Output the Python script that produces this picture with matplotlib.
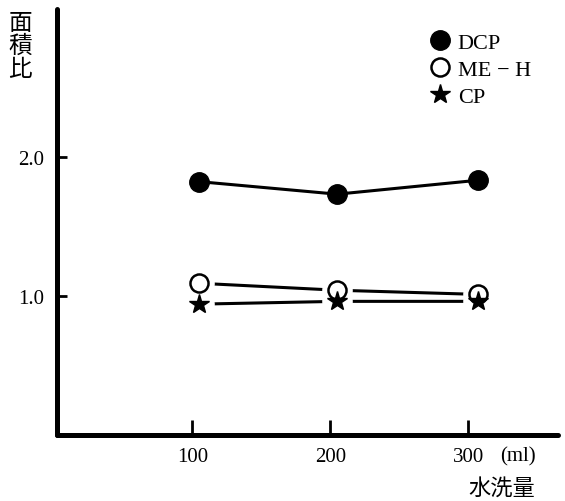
import matplotlib
matplotlib.use("Agg")
import matplotlib.pyplot as plt
from matplotlib.lines import Line2D

# Water wash volume (ml) and peak-area ratios
wash_volume = [105, 205, 307]
dcp = [1.82, 1.73, 1.83]
me_h = [1.09, 1.04, 1.01]
cp = [0.94, 0.96, 0.96]

x_ticks = [100, 200, 300]
x_ticklabels = ["100", "200", "300"]
y_ticks = [1.0, 2.0]
y_ticklabels = ["1.0", "2.0"]

serif = ["Liberation Serif", "DejaVu Serif"]
cjk = ["Noto Sans CJK JP", "DejaVu Sans"]

fig = plt.figure(figsize=(5.65, 5.02), dpi=100)
ax = fig.add_axes([0.1009, 0.1315, 0.8867, 0.8485])
ax.set_xlim(2, 365)
ax.set_ylim(0, 3.06)

for s in ["top", "right"]:
    ax.spines[s].set_visible(False)
for s in ["left", "bottom"]:
    ax.spines[s].set_linewidth(3.6)
    ax.spines[s].set_capstyle("round")

ax.set_xticks(x_ticks)
ax.set_xticklabels(x_ticklabels, fontfamily=serif, fontsize=15)
ax.set_yticks(y_ticks)
ax.set_yticklabels(y_ticklabels, fontfamily=serif, fontsize=15)
ax.tick_params(axis="x", direction="in", length=11, width=2, pad=9)
ax.tick_params(axis="y", direction="in", length=7, width=2, pad=9)

# DCP: solid line through filled circles
ax.plot(wash_volume, dcp, color="black", lw=2.2, zorder=2)
ax.plot(wash_volume, dcp, "o", color="black", ms=14, zorder=5)

# ME-H and CP: lines stop short of the markers
ax.plot(wash_volume, me_h, color="black", lw=2.2, zorder=2)
ax.plot(wash_volume, cp, color="black", lw=2.2, zorder=2)
for series in (me_h, cp):
    ax.plot(wash_volume, series, "o", color="white", ms=21, zorder=3)
ax.plot(wash_volume, me_h, "o", mfc="white", mec="black", mew=1.8,
        ms=13, zorder=4)
ax.plot(wash_volume, cp, "*", color="black", ms=15, zorder=5)

# Unit next to the last tick and axis titles
fig.text(500 / 565, 1 - 457 / 502, "(ml)", fontfamily=serif, fontsize=15,
         ha="left", va="center")
fig.text(502 / 565, 1 - 488 / 502, "水洗量", fontfamily=cjk, fontsize=16,
         ha="center", va="center")
fig.text(20 / 565, 1 - 46 / 502, "面\n積\n比", fontfamily=cjk, fontsize=17,
         ha="center", va="center", linespacing=1.0)

handles = [
    Line2D([], [], ls="none", marker="o", color="black", ms=14),
    Line2D([], [], ls="none", marker="o", mfc="white", mec="black",
           mew=1.8, ms=13),
    Line2D([], [], ls="none", marker="*", color="black", ms=15),
]
labels = ["DCP", "ME − H", "CP"]
fig.legend(handles, labels, loc="upper left",
           bbox_to_anchor=(430 / 565, 1 - 33 / 502), frameon=False,
           prop={"family": serif, "size": 16}, handlelength=0.9,
           handletextpad=0.35, labelspacing=0.3, borderpad=0,
           borderaxespad=0)

fig.savefig("out.png", dpi=100)
